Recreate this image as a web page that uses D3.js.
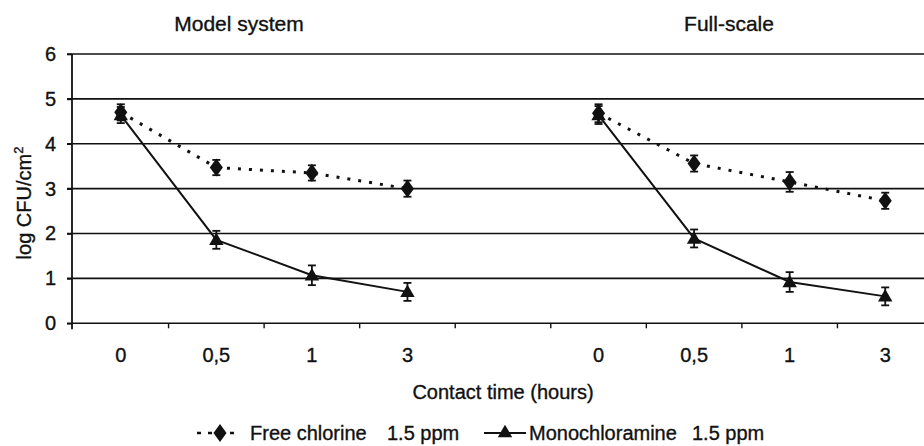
<!DOCTYPE html>
<html>
<head>
<meta charset="utf-8">
<script src="https://cdn.jsdelivr.net/npm/d3@7"></script>
<style>
  html, body { margin: 0; padding: 0; background: #fff; }
  svg { display: block; font-family: "Liberation Sans", Arial, sans-serif; }
  text { stroke: #111; stroke-width: 0.35px; }
</style>
</head>
<body>
<svg id="chart" width="924" height="446"></svg>
<script>
// ---- data ----
const categoryLabels = ["0", "0,5", "1", "3", "", "0", "0,5", "1", "3"];
const panelTitles = ["Model system", "Full-scale"];
const freeChlorine = [4.70, 3.47, 3.35, 3.00, null, 4.68, 3.56, 3.15, 2.73];
const freeChlorineErr = [0.18, 0.17, 0.17, 0.18, null, 0.20, 0.18, 0.22, 0.18];
const monochloramine = [4.64, 1.86, 1.07, 0.70, null, 4.64, 1.89, 0.92, 0.60];
const monochloramineErr = [0.18, 0.20, 0.22, 0.20, null, 0.20, 0.20, 0.22, 0.20];
const yTicks = [0, 1, 2, 3, 4, 5, 6];
const seriesNames = ["Free chlorine", "Monochloramine"];
const seriesDose = ["1.5 ppm", "1.5 ppm"];
const yAxisTitle = "log CFU/cm";
const xAxisTitle = "Contact time (hours)";

// ---- layout ----
const svg = d3.select("#chart");
const plotLeft = 72, plotTop = 54, plotBottom = 323.3;
const x = d3.scaleBand().domain(d3.range(categoryLabels.length)).range([73, 933]).padding(0);
const y = d3.scaleLinear().domain([0, 6]).range([plotBottom, plotTop]);
const ink = "#111";
const fs = 20;

// gridlines
svg.append("g").selectAll("line").data(yTicks).join("line")
  .attr("x1", plotLeft - 5).attr("x2", 924)
  .attr("y1", d => y(d)).attr("y2", d => y(d))
  .attr("stroke", ink).attr("stroke-width", 1.6);

// y axis
const yAxis = d3.axisLeft(y).tickValues(yTicks).tickSize(5).tickPadding(11).tickFormat(d3.format("d"));
const gy = svg.append("g").attr("transform", `translate(${plotLeft},0)`).call(yAxis);
gy.select(".domain").remove();
gy.selectAll(".tick line").attr("stroke", ink).attr("stroke-width", 1.6);
gy.selectAll(".tick text").attr("font-size", fs).attr("fill", ink).attr("font-family", "Liberation Sans, Arial, sans-serif");
svg.append("line").attr("x1", plotLeft).attr("x2", plotLeft).attr("y1", plotTop).attr("y2", plotBottom + 6)
  .attr("stroke", ink).attr("stroke-width", 1.8);

// x axis ticks at band boundaries
const boundaries = d3.range(1, categoryLabels.length).map(i => x(i));
svg.append("g").selectAll("line").data(boundaries).join("line")
  .attr("x1", d => d).attr("x2", d => d)
  .attr("y1", plotBottom).attr("y2", plotBottom + 5)
  .attr("stroke", ink).attr("stroke-width", 1.4);
svg.append("g").selectAll("text").data(categoryLabels).join("text")
  .attr("x", (d, i) => x(i) + x.bandwidth() / 2)
  .attr("y", 362)
  .attr("text-anchor", "middle").attr("font-size", fs).attr("fill", ink)
  .text(d => d);

// panel titles
const panelCenters = [239, 729];
svg.append("g").selectAll("text").data(panelTitles).join("text")
  .attr("x", (d, i) => panelCenters[i]).attr("y", 31)
  .attr("text-anchor", "middle").attr("font-size", 21).attr("fill", ink)
  .text(d => d);

// axis titles
const yt = svg.append("text").attr("transform", "translate(31,203) rotate(-90)")
  .attr("text-anchor", "middle").attr("font-size", fs).attr("fill", ink);
yt.append("tspan").text(yAxisTitle);
yt.append("tspan").attr("dy", -8).attr("font-size", 13).text("2");
svg.append("text").attr("x", 503).attr("y", 399).attr("text-anchor", "middle")
  .attr("font-size", fs).attr("fill", ink).text(xAxisTitle);

// ---- series ----
const cx = i => x(i) + x.bandwidth() / 2;
function pts(vals, errs) {
  return vals.map((v, i) => ({ i, v, e: errs[i] }));
}
const fcPts = pts(freeChlorine, freeChlorineErr);
const mcPts = pts(monochloramine, monochloramineErr);
const line = d3.line().defined(d => d.v !== null).x(d => cx(d.i)).y(d => y(d.v));

svg.append("path").datum(fcPts).attr("d", line).attr("fill", "none")
  .attr("stroke", ink).attr("stroke-width", 3).attr("stroke-dasharray", "3,8");
svg.append("path").datum(mcPts).attr("d", line).attr("fill", "none")
  .attr("stroke", ink).attr("stroke-width", 2);

function errorBars(data) {
  const g = svg.append("g").attr("stroke", ink).attr("stroke-width", 1.8);
  const d0 = data.filter(d => d.v !== null);
  g.selectAll(".v").data(d0).join("line")
    .attr("x1", d => cx(d.i)).attr("x2", d => cx(d.i))
    .attr("y1", d => y(d.v + d.e)).attr("y2", d => y(d.v - d.e));
  g.selectAll(".t").data(d0).join("line")
    .attr("x1", d => cx(d.i) - 4).attr("x2", d => cx(d.i) + 4)
    .attr("y1", d => y(d.v + d.e)).attr("y2", d => y(d.v + d.e));
  g.selectAll(".b").data(d0).join("line")
    .attr("x1", d => cx(d.i) - 4).attr("x2", d => cx(d.i) + 4)
    .attr("y1", d => y(d.v - d.e)).attr("y2", d => y(d.v - d.e));
}
errorBars(fcPts);
errorBars(mcPts);

const diamond = d3.symbol().type(d3.symbolDiamond).size(95);
const triangle = d3.symbol().type(d3.symbolTriangle).size(90);
svg.append("g").selectAll("path").data(fcPts.filter(d => d.v !== null)).join("path")
  .attr("transform", d => `translate(${cx(d.i)},${y(d.v)}) scale(1.25,1)`)
  .attr("d", diamond).attr("fill", ink);
svg.append("g").selectAll("path").data(mcPts.filter(d => d.v !== null)).join("path")
  .attr("transform", d => `translate(${cx(d.i)},${y(d.v) + 1})`)
  .attr("d", triangle).attr("fill", ink);

// ---- legend ----
const lg = svg.append("g");
const ly = 433;
lg.append("line").attr("x1", 197).attr("x2", 241).attr("y1", ly).attr("y2", ly)
  .attr("stroke", ink).attr("stroke-width", 2.5).attr("stroke-dasharray", "4,7");
lg.append("path").attr("transform", `translate(220,${ly}) scale(1.25,1)`).attr("d", diamond).attr("fill", ink);
lg.append("text").attr("x", 250).attr("y", 440).attr("font-size", fs).attr("fill", ink).text(seriesNames[0]);
lg.append("text").attr("x", 387).attr("y", 440).attr("font-size", fs).attr("fill", ink).text(seriesDose[0]);
lg.append("line").attr("x1", 484).attr("x2", 526).attr("y1", ly).attr("y2", ly)
  .attr("stroke", ink).attr("stroke-width", 2);
lg.append("path").attr("transform", `translate(505,${ly})`).attr("d", triangle).attr("fill", ink);
lg.append("text").attr("x", 529).attr("y", 440).attr("font-size", fs).attr("fill", ink).text(seriesNames[1]);
lg.append("text").attr("x", 692).attr("y", 440).attr("font-size", fs).attr("fill", ink).text(seriesDose[1]);
</script>
</body>
</html>
